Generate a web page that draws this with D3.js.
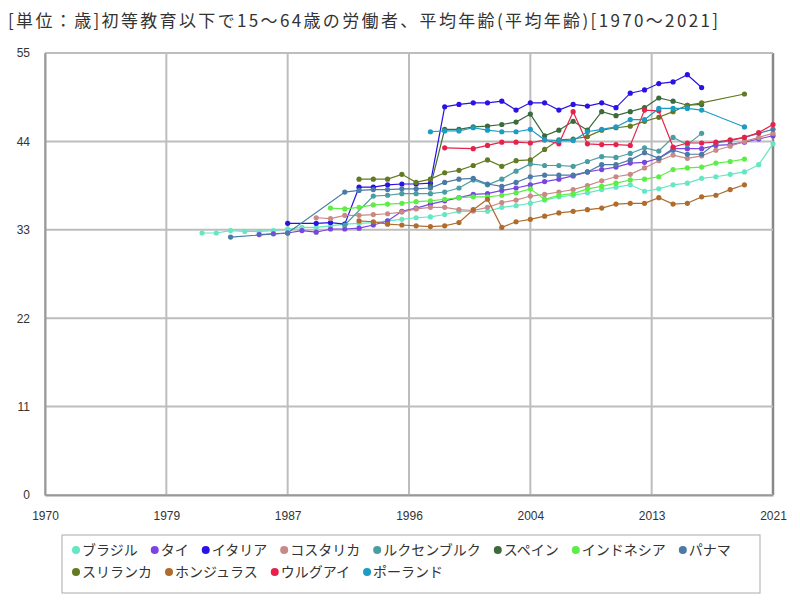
<!DOCTYPE html>
<html lang="ja">
<head>
<meta charset="UTF-8" />
<title>初等教育以下で15～64歳の労働者、平均年齢</title>
<script src="https://cdn.jsdelivr.net/npm/d3@7"></script>
<style>
  body { margin: 0; background: #fff; font-family: "Noto Sans CJK JP", "Noto Sans", sans-serif; }
  svg text { fill: #333; }
</style>
</head>
<body>
<div id="chart"></div>
<script>
// years 1981..2021, values aligned by index (null = no data)
const years = [1981,1982,1983,1984,1985,1986,1987,1988,1989,1990,
  1991,1992,1993,1994,1995,1996,1997,1998,1999,2000,
  2001,2002,2003,2004,2005,2006,2007,2008,2009,2010,
  2011,2012,2013,2014,2015,2016,2017,2018,2019,2020,2021]

const brazil = [32.6,32.6,32.9,32.8,32.8,32.9,33.1,33.3,33.3,33.5,
  33.7,33.8,33.9,34.1,34.3,34.5,34.6,34.9,35.3,35.3,
  35.3,35.8,36.0,36.3,36.7,37.1,37.3,37.6,38.0,38.3,
  38.6,37.8,38.1,38.6,38.8,39.4,39.6,39.9,40.2,41.1,43.7]
const thailand = [null,null,null,null,32.4,32.5,32.6,32.9,32.7,33.1,
  33.1,33.2,33.6,34.1,35.3,35.7,36.2,36.6,37.0,37.4,
  37.5,37.9,38.2,38.6,39.0,39.3,39.7,40.2,40.5,40.8,
  41.3,41.4,41.9,43.1,43.1,43.1,43.5,43.6,43.9,44.3,44.7]
const italy = [null,null,null,null,null,null,33.8,null,33.8,33.9,
  33.7,38.3,38.3,38.6,38.7,38.7,38.8,48.3,48.6,48.8,
  48.8,49.0,47.9,48.8,48.8,47.9,48.6,48.4,48.8,48.2,
  50.0,50.4,51.2,51.4,52.3,50.7,null,null,null,null,null]
const costaRica = [null,null,null,null,null,null,null,null,34.5,34.4,
  34.8,34.8,34.9,35.0,35.2,35.6,35.8,35.8,35.5,35.4,
  35.8,36.4,36.7,37.2,37.4,37.7,38.0,38.5,39.1,39.6,
  39.9,40.7,41.6,42.3,41.9,42.2,42.9,43.4,44.0,44.5,45.0]
const luxembourg = [null,null,null,null,null,null,null,null,null,null,
  33.6,null,37.2,37.3,37.5,37.5,37.5,37.7,38.2,39.2,
  38.6,39.3,40.3,41.2,41.0,41.0,40.9,41.5,42.1,42.0,
  42.5,43.2,42.8,44.5,43.6,45.0,null,null,null,null,null]
const spain = [null,null,null,null,null,null,null,null,null,null,
  null,null,null,null,null,null,38.4,45.5,45.5,45.8,
  45.9,46.1,46.4,47.4,44.7,45.4,46.5,45.4,47.7,47.2,
  47.7,48.2,49.4,49.0,48.5,48.6,null,null,null,null,null]
const indonesia = [null,null,null,null,null,null,null,null,null,35.7,
  35.6,35.8,36.1,36.2,36.3,36.5,36.6,36.8,37.0,37.1,
  37.1,37.3,37.6,38.1,36.8,37.3,37.5,38.1,38.4,38.8,
  39.2,39.3,39.6,40.5,40.7,40.8,41.3,41.5,41.8,null,null]
const panama = [null,null,32.1,null,null,null,32.6,null,null,null,
  37.7,37.9,38.0,38.0,38.1,38.1,38.2,38.9,39.3,39.4,
  38.7,38.4,38.9,39.6,39.8,39.8,39.8,40.2,41.1,41.1,
  41.7,42.6,41.9,42.9,42.4,42.4,43.8,44.1,44.5,45.0,45.5]
const sriLanka = [null,null,null,null,null,null,null,null,null,null,
  null,39.3,39.3,39.3,39.9,38.9,39.3,40.1,40.4,41.0,
  41.7,40.9,41.6,41.7,43.0,44.2,44.3,44.6,45.4,45.7,
  45.9,46.5,47.0,47.7,48.5,48.8,null,null,49.9,null,null]
const honduras = [null,null,null,null,null,null,null,null,null,null,
  null,34.1,34.0,33.7,33.6,33.5,33.4,33.5,33.9,35.5,
  36.8,33.3,34.0,34.3,34.7,35.1,35.3,35.5,35.7,36.2,
  36.3,36.3,37.0,36.2,36.3,37.1,37.3,38.0,38.6,null,null]
const uruguay = [null,null,null,null,null,null,null,null,null,null,
  null,null,null,null,null,null,null,43.2,null,43.1,
  43.5,43.9,43.9,43.8,44.2,43.7,47.7,43.7,43.6,43.6,
  43.5,47.9,47.8,43.3,43.8,43.8,43.9,44.2,44.5,45.1,46.1]
const poland = [null,null,null,null,null,null,null,null,null,null,
  null,null,null,null,null,null,45.2,45.3,45.3,45.7,
  45.4,45.2,45.2,45.5,44.2,44.1,44.1,45.2,45.5,45.8,
  46.7,46.7,48.1,48.1,48.1,47.9,null,null,45.8,null,null]

const seriesNames = ["ブラジル","タイ","イタリア","コスタリカ","ルクセンブルク","スペイン",
  "インドネシア","パナマ","スリランカ","ホンジュラス","ウルグアイ","ポーランド"]
const seriesValues = [brazil, thailand, italy, costaRica, luxembourg, spain,
  indonesia, panama, sriLanka, honduras, uruguay, poland]
const seriesColors = ["#66e6c2","#7a44e2","#2a12e4","#c98a86","#4a9ea2","#3b6b3b",
  "#5cee44","#4a7aa6","#627a22","#b06c2c","#e6224c","#1c9cc4"]

const xTickValues = [1970, 1978.5, 1987, 1995.5, 2004, 2012.5, 2021]
const yTickValues = [0, 11, 22, 33, 44, 55]

const W = 800, H = 600
const plot = { left: 45, right: 773, top: 53, bottom: 495 }

const svg = d3.select("#chart").append("svg")
  .attr("width", W).attr("height", H)
  .style("font-family", '"Noto Sans CJK JP", "Noto Sans", sans-serif')

svg.append("text")
  .attr("x", 8).attr("y", 27)
  .attr("font-size", 17)
  .attr("textLength", 710).attr("lengthAdjust", "spacing")
  .text("[単位：歳]初等教育以下で15～64歳の労働者、平均年齢(平均年齢)[1970～2021]")

const x = d3.scaleLinear().domain([1970, 2021]).range([plot.left, plot.right])
const y = d3.scaleLinear().domain([0, 55]).range([plot.bottom, plot.top])

// grid
const grid = svg.append("g")
grid.selectAll(".gx").data(xTickValues).enter().append("line")
  .attr("x1", d => x(d)).attr("x2", d => x(d))
  .attr("y1", plot.top).attr("y2", plot.bottom)
  .attr("stroke", (d, i) => i === xTickValues.length - 1 ? "#888" : "#bdbdbd")
  .attr("stroke-width", (d, i) => i === xTickValues.length - 1 ? 2.5 : 2)
grid.selectAll(".gy").data(yTickValues).enter().append("line")
  .attr("x1", plot.left).attr("x2", plot.right)
  .attr("y1", d => y(d)).attr("y2", d => y(d))
  .attr("stroke", "#bdbdbd").attr("stroke-width", 2)

// axes
const xAxis = d3.axisBottom(x).tickValues(xTickValues)
  .tickFormat(d => Math.round(d)).tickSize(0).tickPadding(16)
svg.append("g").attr("transform", `translate(0,${plot.bottom})`).call(xAxis)
  .call(g => g.select(".domain").attr("stroke", "#999").attr("stroke-width", 2))
  .call(g => g.selectAll("text").attr("font-size", 12).attr("fill", "#333"))

const yAxis = d3.axisLeft(y).tickValues(yTickValues).tickSize(0).tickPadding(15)
svg.append("g").attr("transform", `translate(${plot.left},0)`).call(yAxis)
  .call(g => g.select(".domain").attr("stroke", "#999").attr("stroke-width", 2))
  .call(g => g.selectAll("text").attr("font-size", 12).attr("fill", "#333"))

// series
const line = d3.line().x(d => x(d.year)).y(d => y(d.value))
seriesValues.forEach((vals, i) => {
  const pts = years.map((yr, k) => ({ year: yr, value: vals[k] })).filter(d => d.value != null)
  const g = svg.append("g")
  g.append("path").datum(pts)
    .attr("d", line).attr("fill", "none")
    .attr("stroke", seriesColors[i]).attr("stroke-width", 1.2)
  g.selectAll("circle").data(pts).enter().append("circle")
    .attr("cx", d => x(d.year)).attr("cy", d => y(d.value))
    .attr("r", 2.6).attr("fill", seriesColors[i])
})

// legend
const legend = svg.append("g")
legend.append("rect")
  .attr("x", 62).attr("y", 535).attr("width", 698).attr("height", 58)
  .attr("fill", "none").attr("stroke", "#aaa").attr("stroke-width", 1)
let lx = 72, ly = 550
seriesNames.forEach((name, i) => {
  const item = legend.append("g")
  const t = item.append("text").attr("font-size", 14).attr("dy", "0.35em").text(name)
  const w = t.node().getComputedTextLength()
  if (lx + 10 + w > 755) { lx = 72; ly += 22 }
  item.attr("transform", `translate(${lx},${ly})`)
  item.append("circle").attr("cx", 4).attr("cy", 0).attr("r", 4).attr("fill", seriesColors[i])
  t.attr("x", 10)
  lx += 10 + w + 13
})
</script>
</body>
</html>
